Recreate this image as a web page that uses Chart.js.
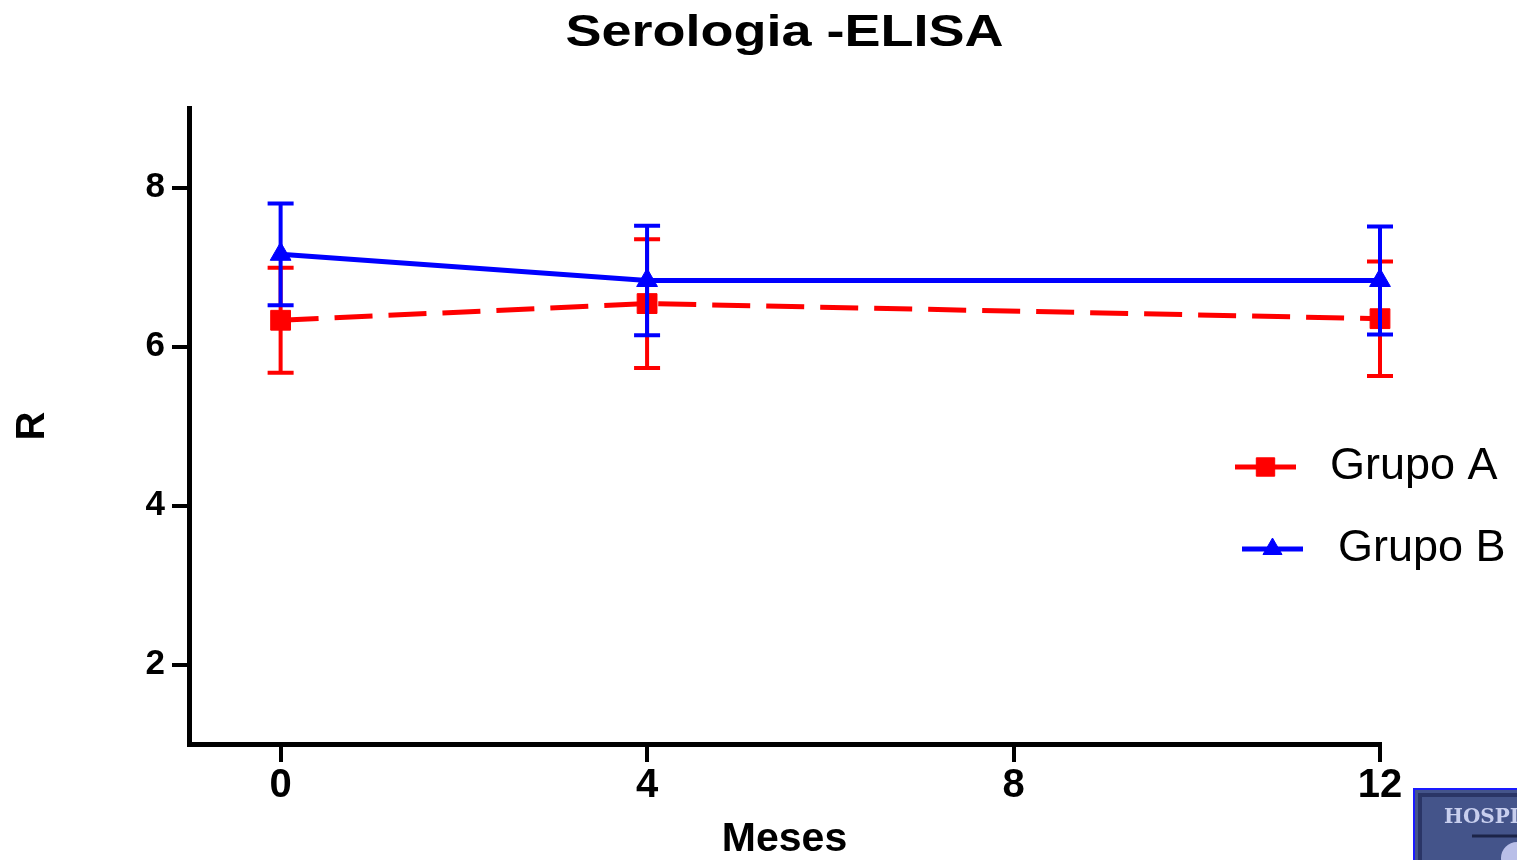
<!DOCTYPE html>
<html>
<head>
<meta charset="utf-8">
<script src="https://cdn.jsdelivr.net/npm/chart.js@4.4.1/dist/chart.umd.min.js"></script>
<style>
  html, body { margin: 0; padding: 0; background: #ffffff; }
  #wrap { width: 1517px; height: 860px; }
</style>
</head>
<body>
<div id="wrap"><canvas id="c" width="1517" height="860"></canvas></div>
<script>
const months = [0, 4, 12];
const grupoA = [6.33, 6.54, 6.35];
const grupoAErr = [0.66, 0.81, 0.72];
const grupoB = [7.16, 6.83, 6.83];
const grupoBErr = [0.64, 0.69, 0.68];
const xTickValues = [0, 4, 8, 12];
const yTickValues = [2, 4, 6, 8];
const seriesNames = ['Grupo A', 'Grupo B'];
const chartTitle = 'Serologia -ELISA';
const xTitle = 'Meses';
const yTitle = 'R';
const logoText = 'HOSPITAL';

const FONT = "'Liberation Sans', Arial, sans-serif";
const RED = '#ff0000';
const BLUE = '#0000ff';

const errors = [grupoAErr, grupoBErr];

const errorBarPlugin = {
  id: 'errorBars',
  beforeDatasetDraw(chart, args) {
    const i = args.index;
    const ds = chart.data.datasets[i];
    const err = errors[i];
    const xs = chart.scales.x, ys = chart.scales.y;
    const ctx = chart.ctx;
    ctx.save();
    ctx.strokeStyle = ds.borderColor;
    ctx.lineWidth = 4;
    ctx.setLineDash([]);
    ds.data.forEach((p, k) => {
      const x = xs.getPixelForValue(p.x);
      const yTop = ys.getPixelForValue(p.y + err[k]);
      const yBot = ys.getPixelForValue(p.y - err[k]);
      ctx.beginPath();
      ctx.moveTo(x, yTop); ctx.lineTo(x, yBot);
      ctx.moveTo(x - 13, yTop); ctx.lineTo(x + 13, yTop);
      ctx.moveTo(x - 13, yBot); ctx.lineTo(x + 13, yBot);
      ctx.stroke();
    });
    ctx.restore();
  }
};

const decorations = {
  id: 'decorations',
  afterDraw(chart) {
    const ctx = chart.ctx;
    const area = chart.chartArea;
    ctx.save();
    // title (slightly widened, as in the reference)
    ctx.font = 'bold 45px ' + FONT;
    ctx.fillStyle = '#000000';
    ctx.textBaseline = 'alphabetic';
    ctx.textAlign = 'center';
    const w = ctx.measureText(chartTitle).width;
    const sx = 438 / w;
    ctx.save();
    ctx.translate((area.left + area.right) / 2, 46);
    ctx.scale(sx, 1);
    ctx.fillText(chartTitle, 0, 0);
    ctx.restore();

    // legend
    const items = [
      { ds: chart.data.datasets[0], x0: 1235, x1: 1296, y: 467, tx: 1330, r: 13 },
      { ds: chart.data.datasets[1], x0: 1242, x1: 1303, y: 549, tx: 1338, r: 11 }
    ];
    items.forEach(it => {
      ctx.strokeStyle = it.ds.borderColor;
      ctx.lineWidth = 5;
      ctx.setLineDash([]);
      ctx.beginPath();
      ctx.moveTo(it.x0, it.y); ctx.lineTo(it.x1, it.y);
      ctx.stroke();
      ctx.fillStyle = it.ds.backgroundColor;
      ctx.lineWidth = 1;
      Chart.helpers.drawPoint(ctx, {
        pointStyle: it.ds.pointStyle,
        radius: it.r,
        borderWidth: 1,
        rotation: 0
      }, (it.x0 + it.x1) / 2, it.y);
      ctx.fillStyle = '#000000';
      ctx.font = '45px ' + FONT;
      ctx.textBaseline = 'middle';
      ctx.textAlign = 'left';
      ctx.fillText(it.ds.label, it.tx, it.y);
    });

    // logo box in bottom-right corner
    ctx.fillStyle = '#44548a';
    ctx.fillRect(1413, 788, 110, 80);
    ctx.strokeStyle = '#1a1aff';
    ctx.lineWidth = 2;
    ctx.strokeRect(1414, 789, 110, 80);
    ctx.strokeStyle = '#2a3566';
    ctx.lineWidth = 4;
    ctx.strokeRect(1420, 795, 110, 80);
    ctx.fillStyle = '#c8cfee';
    ctx.font = "bold 20px 'DejaVu Serif', serif";
    ctx.textBaseline = 'middle';
    ctx.textAlign = 'left';
    ctx.fillText(logoText, 1444, 818);
    ctx.strokeStyle = '#1c2448';
    ctx.lineWidth = 3;
    ctx.beginPath(); ctx.moveTo(1472, 836); ctx.lineTo(1517, 836); ctx.stroke();
    ctx.fillStyle = '#b9bfe8';
    ctx.beginPath(); ctx.arc(1517, 858, 16, 0, Math.PI * 2); ctx.fill();
    ctx.restore();
  }
};

new Chart(document.getElementById('c'), {
  type: 'line',
  data: {
    datasets: [
      {
        label: seriesNames[0],
        data: months.map((m, i) => ({ x: m, y: grupoA[i] })),
        borderColor: RED,
        backgroundColor: RED,
        borderWidth: 5,
        borderDash: [38, 16],
        pointStyle: 'rect',
        pointRadius: 14,
        pointBorderWidth: 1,
        pointHoverRadius: 14,
        clip: false,
        order: 1,
        tension: 0
      },
      {
        label: seriesNames[1],
        data: months.map((m, i) => ({ x: m, y: grupoB[i] })),
        borderColor: BLUE,
        backgroundColor: BLUE,
        borderWidth: 5,
        pointStyle: 'triangle',
        pointRadius: 12,
        pointBorderWidth: 1,
        pointHoverRadius: 12,
        clip: false,
        order: 0,
        tension: 0
      }
    ]
  },
  options: {
    responsive: false,
    animation: false,
    events: [],
    layout: { padding: { left: 0, right: 137, top: 108, bottom: 0 } },
    plugins: {
      legend: { display: false },
      tooltip: { enabled: false },
      title: { display: false }
    },
    scales: {
      x: {
        type: 'linear',
        min: -1,
        max: 12,
        afterBuildTicks(scale) { scale.ticks = xTickValues.map(v => ({ value: v })); },
        afterFit(scale) { scale.height = 116; },
        border: { display: true, color: '#000000', width: 5 },
        grid: { drawOnChartArea: false, drawTicks: true, tickLength: 18, color: '#000000', lineWidth: 4 },
        ticks: {
          color: '#000000',
          font: { family: FONT, size: 40, weight: 'bold' },
          padding: 0,
          maxRotation: 0
        },
        title: {
          display: true,
          text: xTitle,
          color: '#000000',
          font: { family: FONT, size: 41, weight: 'bold', lineHeight: 1 },
          padding: { top: 0, bottom: 0 }
        }
      },
      y: {
        type: 'linear',
        min: 1,
        max: 9,
        afterBuildTicks(scale) { scale.ticks = yTickValues.map(v => ({ value: v })); },
        afterFit(scale) { scale.width = 189; },
        border: { display: true, color: '#000000', width: 5 },
        grid: { drawOnChartArea: false, drawTicks: true, tickLength: 17, color: '#000000', lineWidth: 4 },
        ticks: {
          color: '#000000',
          font: { family: FONT, size: 35, weight: 'bold' },
          padding: 7
        },
        title: {
          display: true,
          text: yTitle,
          color: '#000000',
          font: { family: FONT, size: 40, weight: 'bold', lineHeight: 1 },
          padding: { top: 13, bottom: 0 }
        }
      }
    }
  },
  plugins: [errorBarPlugin, decorations]
});
</script>
</body>
</html>
